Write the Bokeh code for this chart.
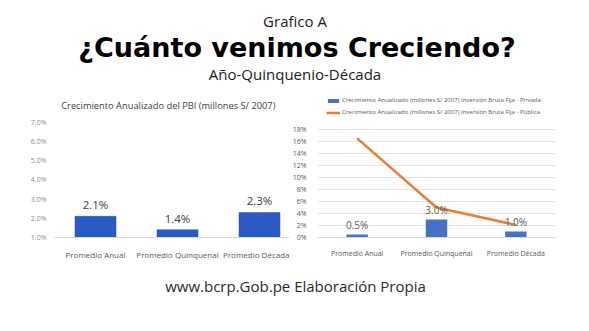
from bokeh.plotting import figure
from bokeh.models import ColumnDataSource, FixedTicker, Legend, LegendItem, Range1d
from bokeh.layouts import column, row
from bokeh.core.properties import value
from bokeh.embed import file_html
from bokeh.resources import INLINE

# ---- data ----
categories = ["Promedio Anual", "Promedio Quinquenal", "Promedio Década"]
pbi_growth = [2.1, 1.4, 2.3]
pbi_labels = ["2.1%", "1.4%", "2.3%"]
left_ticks = [1, 2, 3, 4, 5, 6, 7]
left_tick_labels = ["1.0%", "2.0%", "3.0%", "4.0%", "5.0%", "6.0%", "7.0%"]

private_growth = [0.5, 3.0, 1.0]
private_labels = ["0.5%", "3.0%", "1.0%"]
public_growth = [16.5, 5.0, 2.1]
right_ticks = [0, 2, 4, 6, 8, 10, 12, 14, 16, 18]
right_tick_labels = ["0%", "2%", "4%", "6%", "8%", "10%", "12%", "14%", "16%", "18%"]

title_top = "Grafico A"
title_main = "¿Cuánto venimos Creciendo?"
title_sub = "Año-Quinquenio-Década"
left_title = "Crecimiento Anualizado del PBI (millones  S/ 2007)"
legend_priv = "Crecimiento Anualizado (millones S/ 2007) Inversión Bruta Fija - Privada"
legend_pub = "Crecimiento Anualizado (millones S/ 2007) Inversión Bruta Fija - Pública"
footer = "www.bcrp.Gob.pe Elaboración Propia"

FONT = "Open Sans"
W = 589
CH = 174  # chart row height


def blank(w, h):
    f = figure(width=w, height=h, output_backend="svg", toolbar_location=None,
               x_range=Range1d(0, w), y_range=Range1d(h, 0), min_border=0)
    f.axis.visible = False
    f.grid.visible = False
    f.outline_line_color = None
    return f


# ---- header ----
top = blank(W, 88)
top.text(x=[W / 2], y=[20], text=[title_top], text_font=value(FONT), text_font_size="15px",
         text_align="center", text_baseline="middle", text_color="#1a1a1a")
top.text(x=[W / 2 + 2], y=[47], text=[title_main], text_font=value("DejaVu Sans"), text_font_size="27px",
         text_font_style="bold", text_align="center", text_baseline="middle", text_color="#000000")
top.text(x=[W / 2], y=[73], text=[title_sub], text_font=value(FONT), text_font_size="15px",
         text_align="center", text_baseline="middle", text_color="#1a1a1a")

# ---- left chart ----
# frame spans chart-row y 4..151 (page 92..239); 19.5 px per 1 %
LW = 289
l_top_val = 1 + (151 - 4) / 19.5
lf = figure(width=LW, height=CH, output_backend="svg", toolbar_location=None,
            x_range=Range1d(-0.5, (LW - 54) / 82 - 0.5), y_range=Range1d(1, l_top_val),
            min_border_left=54, min_border_right=0, min_border_top=4, min_border_bottom=23)
lsrc = ColumnDataSource(dict(x=[0, 1, 2], top=pbi_growth, lab=pbi_labels))
lf.vbar(x="x", top="top", bottom=1, width=0.5, source=lsrc, fill_color="#2C5AC4",
        line_color="#234ea8", line_width=0.5)
lf.text(x="x", y="top", text="lab", source=lsrc, text_font=value(FONT), text_font_size="11.5px",
        text_align="center", text_baseline="bottom", y_offset=-4, text_color="#404040")
# chart title (page y ~105)
lf.text(x=[((LW - 54) / 82 - 1) / 2 - 0.03], y=[1 + (239 - 105) / 19.5], text=[left_title],
        text_font=value(FONT), text_font_size="9.3px", text_align="center", text_baseline="middle",
        text_color="#404040")
lf.outline_line_color = None
lf.grid.visible = False
lf.xaxis.ticker = FixedTicker(ticks=[0, 1, 2])
lf.xaxis.major_label_overrides = {i: c for i, c in enumerate(categories)}
lf.xaxis.major_tick_line_color = None
lf.xaxis.minor_tick_line_color = None
lf.xaxis.axis_line_color = "#d9d9d9"
lf.xaxis.major_label_text_font = FONT
lf.xaxis.major_label_text_font_size = "8px"
lf.xaxis.major_label_text_color = "#595959"
lf.xaxis.major_label_standoff = 5
lf.yaxis.ticker = FixedTicker(ticks=left_ticks)
lf.yaxis.major_label_overrides = {t: l for t, l in zip(left_ticks, left_tick_labels)}
lf.yaxis.axis_line_color = None
lf.yaxis.major_tick_line_color = None
lf.yaxis.minor_tick_line_color = None
lf.yaxis.major_label_text_font = FONT
lf.yaxis.major_label_text_font_size = "7px"
lf.yaxis.major_label_text_color = "#8c8c8c"
lf.yaxis.major_label_standoff = 2

# ---- right chart ----
# frame spans chart-row y 4..153 (page 92..241); 6.17 px per 1 %
RW = W - LW
r_top_val = (153 - 4) / 6.17
rf = figure(width=RW, height=CH, output_backend="svg", toolbar_location=None,
            x_range=Range1d(-0.5, 2.5), y_range=Range1d(0, r_top_val),
            min_border_left=22, min_border_right=34, min_border_top=4, min_border_bottom=21)
rsrc = ColumnDataSource(dict(x=[0, 1, 2], priv=private_growth, pub=public_growth, lab=private_labels))
bars = rf.vbar(x="x", top="priv", width=0.27, source=rsrc, fill_color="#4472C4", line_color=None)
ln = rf.line(x="x", y="pub", source=rsrc, line_color="#ED7D31", line_width=2.5)
rf.text(x="x", y="priv", text="lab", source=rsrc, text_font=value(FONT), text_font_size="10px",
        text_align="center", text_baseline="bottom", y_offset=-2, text_color="#595959")
rf.outline_line_color = None
rf.xgrid.visible = False
rf.ygrid.grid_line_color = "#e3e3e3"
rf.ygrid.ticker = FixedTicker(ticks=right_ticks)
rf.xaxis.ticker = FixedTicker(ticks=[0, 1, 2])
rf.xaxis.major_label_overrides = {i: c for i, c in enumerate(categories)}
rf.xaxis.major_tick_line_color = None
rf.xaxis.minor_tick_line_color = None
rf.xaxis.axis_line_color = "#d9d9d9"
rf.xaxis.major_label_text_font = FONT
rf.xaxis.major_label_text_font_size = "7px"
rf.xaxis.major_label_text_color = "#595959"
rf.xaxis.major_label_standoff = 5
rf.yaxis.ticker = FixedTicker(ticks=right_ticks)
rf.yaxis.major_label_overrides = {t: l for t, l in zip(right_ticks, right_tick_labels)}
rf.yaxis.axis_line_color = None
rf.yaxis.major_tick_line_color = None
rf.yaxis.minor_tick_line_color = None
rf.yaxis.major_label_text_font = FONT
rf.yaxis.major_label_text_font_size = "7px"
rf.yaxis.major_label_text_color = "#595959"
rf.yaxis.major_label_standoff = 5

legend = Legend(items=[LegendItem(label=legend_priv, renderers=[bars]),
                       LegendItem(label=legend_pub, renderers=[ln])],
                location=(9, 120), orientation="vertical", padding=0, spacing=2,
                label_height=10, glyph_height=5, glyph_width=14, label_standoff=2,
                label_text_font=FONT, label_text_font_size="6px", label_text_color="#595959",
                border_line_alpha=0, background_fill_alpha=0, margin=0)
rf.add_layout(legend, "center")

# ---- footer ----
bot = blank(W, 69)
bot.text(x=[W / 2 + 0.5], y=[23], text=[footer], text_font=value(FONT), text_font_size="15px",
         text_align="center", text_baseline="middle", text_color="#2a2a2a")

layout = column(top, row(lf, rf), bot)
open("out.html", "w").write(file_html(layout, INLINE))
